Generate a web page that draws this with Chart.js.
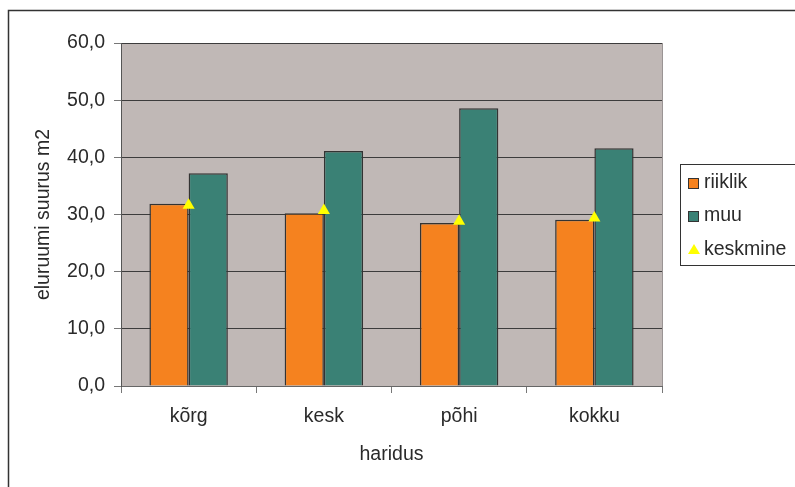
<!DOCTYPE html>
<html>
<head>
<meta charset="utf-8">
<script src="https://cdn.jsdelivr.net/npm/chart.js@4"></script>
<style>
  html, body { margin: 0; padding: 0; background: #fff; }
</style>
</head>
<body>
<canvas id="myChart" width="795" height="487"></canvas>
<script>
const categories = ['kõrg', 'kesk', 'põhi', 'kokku'];
const riiklik = [31.9, 30.2, 28.5, 29.1];
const muu = [37.2, 41.1, 48.6, 41.6];
const keskmine = [31.6, 30.7, 28.8, 29.4];
const yTicks = [0, 10, 20, 30, 40, 50, 60];

const FONT = { family: '"Liberation Sans", Arial, sans-serif', size: 19.5 };
const TEXT = '#2a2a2a';

// plot background + outer frame
const framePlugin = {
  id: 'frame',
  beforeDraw(chart) {
    const { ctx, chartArea: a } = chart;
    ctx.save();
    ctx.fillStyle = '#c0b8b6';
    ctx.fillRect(a.left, a.top, a.right - a.left, a.bottom - a.top);
    ctx.strokeStyle = '#9a9494';
    ctx.lineWidth = 1;
    ctx.beginPath();
    ctx.moveTo(a.right + 0.5, a.top);
    ctx.lineTo(a.right + 0.5, a.bottom);
    ctx.stroke();
    ctx.restore();
  },
  afterDraw(chart) {
    const ctx = chart.ctx;
    ctx.save();
    ctx.strokeStyle = '#333';
    ctx.lineWidth = 1.5;
    ctx.strokeRect(8.5, 10.5, 900, 600);
    ctx.restore();
  }
};

// legend in a bordered box, to the right of the plot
const boxLegend = {
  id: 'boxLegend',
  afterDraw(chart) {
    const ctx = chart.ctx;
    const items = Chart.defaults.plugins.legend.labels.generateLabels(chart)
      .sort((a, b) => a.datasetIndex - b.datasetIndex);
    const x0 = 680, y0 = 164;
    const rows = [183, 216, 250];
    ctx.save();
    ctx.fillStyle = '#fff';
    ctx.fillRect(x0, y0, 200, 101);
    ctx.strokeStyle = '#333';
    ctx.lineWidth = 1;
    ctx.strokeRect(x0 + 0.5, y0 + 0.5, 200, 101);
    items.forEach((it, i) => {
      const cy = rows[i];
      const ds = chart.data.datasets[it.datasetIndex];
      if (ds.pointStyle === 'triangle') {
        ctx.fillStyle = ds.backgroundColor;
        ctx.beginPath();
        ctx.moveTo(694, cy - 6);
        ctx.lineTo(700, cy + 4);
        ctx.lineTo(688, cy + 4);
        ctx.closePath();
        ctx.fill();
      } else {
        ctx.fillStyle = ds.backgroundColor;
        ctx.fillRect(688, cy - 5, 11, 11);
        ctx.strokeStyle = '#333';
        ctx.lineWidth = 1;
        ctx.strokeRect(688.5, cy - 4.5, 10, 10);
      }
      ctx.fillStyle = TEXT;
      ctx.font = FONT.size + 'px ' + FONT.family;
      ctx.textBaseline = 'middle';
      ctx.textAlign = 'left';
      ctx.fillText(it.text, 704, cy);
    });
    ctx.restore();
  }
};

const ctx = document.getElementById('myChart').getContext('2d');
const myChart = new Chart(ctx, {
  type: 'bar',
  data: {
    labels: categories,
    datasets: [
      {
        label: 'riiklik',
        data: riiklik,
        backgroundColor: '#f5821f',
        borderColor: '#333',
        borderWidth: 1.5,
        order: 1
      },
      {
        label: 'muu',
        data: muu,
        backgroundColor: '#3a8175',
        borderColor: '#333',
        borderWidth: 1.5,
        order: 1
      },
      {
        type: 'line',
        label: 'keskmine',
        data: keskmine,
        showLine: false,
        pointStyle: 'triangle',
        pointRadius: 7,
        pointHoverRadius: 7,
        backgroundColor: '#ffff00',
        borderColor: '#ffff00',
        borderWidth: 0,
        order: 0
      }
    ]
  },
  options: {
    responsive: false,
    animation: false,
    categoryPercentage: 0.58,
    barPercentage: 1,
    layout: { padding: { left: 0, top: 43, right: 133, bottom: 0 } },
    plugins: {
      legend: { display: false },
      tooltip: { enabled: false }
    },
    scales: {
      x: {
        afterFit: s => { s.height = 101; },
        grid: { display: true, drawOnChartArea: false, offset: true, tickLength: 7, color: '#777' },
        border: { color: '#666' },
        ticks: { font: FONT, color: TEXT, padding: 12 },
        title: { display: true, text: 'haridus', font: FONT, color: TEXT, padding: { top: 0, bottom: 21 } }
      },
      y: {
        min: 0,
        max: 60,
        afterFit: s => { s.width = 121; },
        afterBuildTicks: s => { s.ticks = yTicks.map(v => ({ value: v })); },
        grid: { color: '#3c3c3c', tickColor: '#777', tickLength: 7, lineWidth: 1 },
        border: { color: '#555' },
        ticks: {
          font: FONT,
          color: TEXT,
          padding: 9,
          callback: v => v.toFixed(1).replace('.', ',')
        },
        title: { display: true, text: 'eluruumi suurus m2', font: FONT, color: TEXT, padding: { top: 32, bottom: 0 } }
      }
    }
  },
  plugins: [framePlugin, boxLegend]
});
</script>
</body>
</html>
